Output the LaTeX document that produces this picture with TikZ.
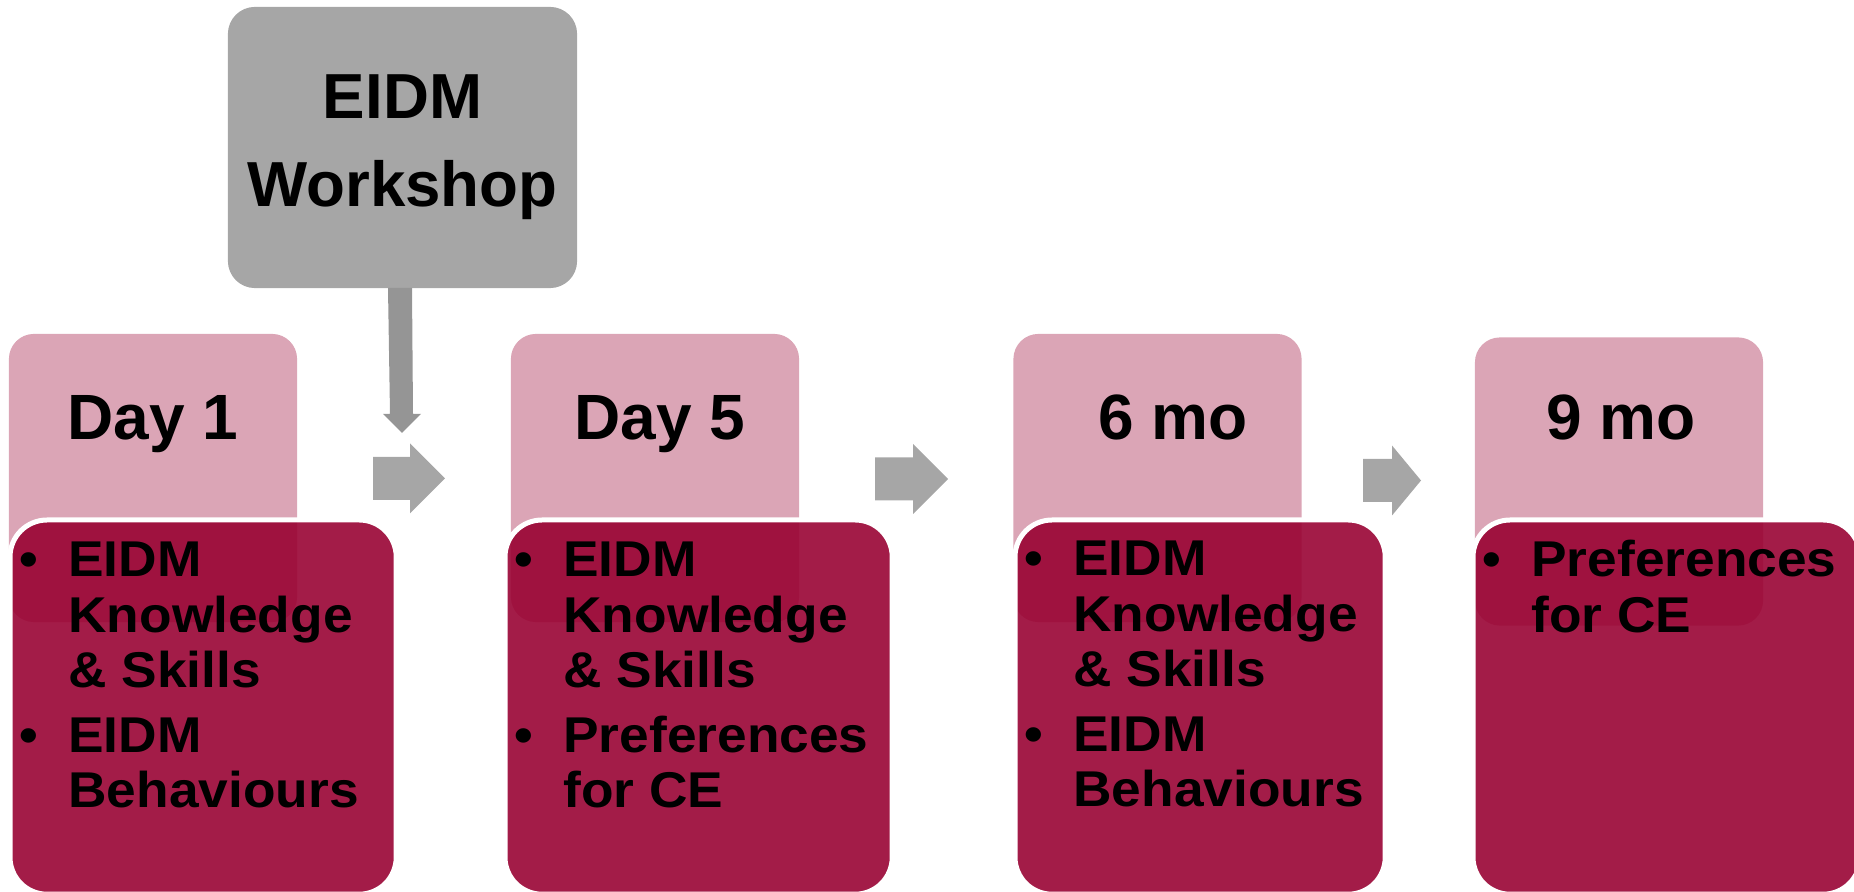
\documentclass[tikz,border=0pt]{standalone}
\usepackage{fontspec}
\setmainfont{Liberation Sans}
\newfontfamily\itemfont[FakeStretch=1.06]{Liberation Sans}
\usetikzlibrary{positioning}

\definecolor{stagepink}{HTML}{DBA5B6}
\definecolor{berry}{RGB}{152,0,49}
\definecolor{workgray}{HTML}{A6A6A6}
\definecolor{downgray}{HTML}{959595}

\begin{document}
\begin{tikzpicture}[x=0.01cm, y=-0.01cm,
 work node/.style={fill=workgray, rounded corners=0.27cm, minimum width=3.49cm, minimum height=2.81cm, inner sep=0, align=center, font=\bfseries\fontsize{18.1}{25}\selectfont},
 stage node/.style={fill=stagepink, rounded corners=0.25cm, minimum width=2.88cm, minimum height=2.88cm, inner sep=0},
 detail node/.style={anchor=north west, fill=berry, fill opacity=0.89, draw=white, line width=0.05cm, rounded corners=0.37cm, minimum height=3.74cm, inner sep=0},
 head text/.style={anchor=base, inner sep=0, font=\bfseries\fontsize{18.2}{25}\selectfont},
 item text/.style={anchor=base west, inner sep=0, font=\itemfont\bfseries\fontsize{14.3}{15.65}\selectfont},
 block arrow/.style={fill=workgray}]

  \useasboundingbox (0,0) rectangle (1854,892);

  \node[work node] (work) at (402.5,147.5) {EIDM\\Workshop};
  \fill[downgray] (388,288) -- (412,288) -- (413,414) -- (421,414) -- (402,433) -- (383,414) -- (390,414) -- cycle;

  \foreach \x/\y/\s/\h in {373/478.5/37/35, 875/479/38/35, 1363/480.5/29/29} {
   \fill[block arrow] (\x,{\y-21.5}) -- ({\x+\s},{\y-21.5}) -- ({\x+\s},{\y-35}) -- ({\x+\s+\h},\y)
     -- ({\x+\s},{\y+35}) -- ({\x+\s},{\y+21.5}) -- (\x,{\y+21.5}) -- cycle;}

  \foreach \n/\cx/\cy in {day1/153/478, day5/655/478, mo6/1157.5/478, mo9/1619/481.5} {
   \node[stage node] (\n) at (\cx,\cy) {};}

  \node[detail node, minimum width=3.86cm] (list1) at (7.5,517.5) {};
  \node[detail node, minimum width=3.87cm] (list2) at (502.5,517.5) {};
  \node[detail node, minimum width=3.70cm] (list3) at (1012.5,517.5) {};
  \node[detail node, minimum width=3.87cm] (list4) at (1470.5,517.5) {};

  \foreach \n/\tx/\t in {day1/153/Day 1, day5/660/Day 5, mo6/1173/6 mo, mo9/1621/9 mo} {
   \node[head text] (\n text) at (\tx,440) {\t};}

  \node[item text] (items1) at (19,577) {\begin{tabular}[t]{@{}c@{\hspace{0.3cm}}l@{}}
   \textbullet & EIDM\\ & Knowledge\\ & \& Skills\\[0.1cm]
   \textbullet & EIDM\\ & Behaviours\end{tabular}};
  \node[item text] (items2) at (514,577) {\begin{tabular}[t]{@{}c@{\hspace{0.3cm}}l@{}}
   \textbullet & EIDM\\ & Knowledge\\ & \& Skills\\[0.1cm]
   \textbullet & Preferences\\ & for CE\end{tabular}};
  \node[item text] (items3) at (1024,576) {\begin{tabular}[t]{@{}c@{\hspace{0.3cm}}l@{}}
   \textbullet & EIDM\\ & Knowledge\\ & \& Skills\\[0.1cm]
   \textbullet & EIDM\\ & Behaviours\end{tabular}};
  \node[item text] (items4) at (1482,577) {\begin{tabular}[t]{@{}c@{\hspace{0.3cm}}l@{}}
   \textbullet & Preferences\\ & for CE\end{tabular}};
\end{tikzpicture}
\end{document}
